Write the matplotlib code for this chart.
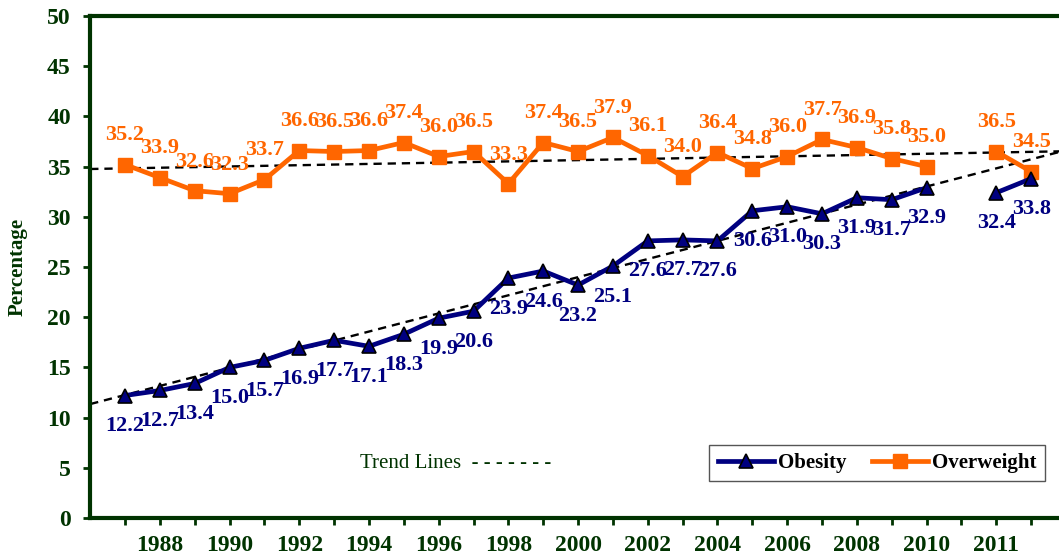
import numpy as np
import matplotlib
matplotlib.use("Agg")
import matplotlib.pyplot as plt
from matplotlib.lines import Line2D

# ---- data ----
categories = [str(y) for y in range(1987, 2011)] + ["", "2011", "2012"]
tick_labels = ["" if (i % 2 == 0) else c for i, c in enumerate(categories[:24])] + ["", "2011", ""]
obesity = [12.2, 12.7, 13.4, 15.0, 15.7, 16.9, 17.7, 17.1, 18.3, 19.9, 20.6, 23.9,
           24.6, 23.2, 25.1, 27.6, 27.7, 27.6, 30.6, 31.0, 30.3, 31.9, 31.7, 32.9,
           np.nan, 32.4, 33.8]
overweight = [35.2, 33.9, 32.6, 32.3, 33.7, 36.6, 36.5, 36.6, 37.4, 36.0, 36.5, 33.3,
              37.4, 36.5, 37.9, 36.1, 34.0, 36.4, 34.8, 36.0, 37.7, 36.9, 35.8, 35.0,
              np.nan, 36.5, 34.5]

GREEN = "#003300"
NAVY = "#000080"
ORANGE = "#FF6600"
SERIF = ["Liberation Serif", "DejaVu Serif"]

plt.rcParams['font.family'] = SERIF

fig = plt.figure(figsize=(10.59, 5.56), dpi=100)
W, H = 1059, 556
x0, x1 = 90.2, 1066.0
ytop, ybot = 16, 518
ax = fig.add_axes([x0 / W, 1 - ybot / H, (x1 - x0) / W, (ybot - ytop) / H])

x = np.arange(len(categories))
ob = np.array(obesity, dtype=float)
ow = np.array(overweight, dtype=float)

# trend lines
xx = np.array([-1, len(categories)])
for vals in (ob, ow):
    m = ~np.isnan(vals)
    k, b = np.polyfit(x[m], vals[m], 1)
    ax.plot(xx, k * xx + b, color="black", ls=(0, (3.5, 2.5)), lw=1.7, zorder=2)

ax.plot(x, ow, color=ORANGE, lw=3.4, marker="s", ms=9.5, mfc=ORANGE, mec=ORANGE, zorder=3)
ax.plot(x, ob, color=NAVY, lw=3.4, marker="^", ms=10, mfc=NAVY, mec="black", mew=1.2, zorder=4)

for xi, v in zip(x, ob):
    if not np.isnan(v):
        ax.annotate(f"{v:.1f}", (xi, v), xytext=(0, -22), textcoords="offset points",
                    ha="center", va="center", color=NAVY, fontsize=16, fontweight="bold", zorder=5)
for xi, v in zip(x, ow):
    if not np.isnan(v):
        ax.annotate(f"{v:.1f}", (xi, v), xytext=(0, 21), textcoords="offset points",
                    ha="center", va="center", color=ORANGE, fontsize=16, fontweight="bold", zorder=5)

ax.set_xlim(-1, len(categories))
ax.set_ylim(0, 50)
ax.set_yticks(np.arange(0, 51, 5))
ax.set_xticks(x)
ax.set_xticklabels(tick_labels)

for s in ["left", "bottom", "top"]:
    ax.spines[s].set_color(GREEN)
    ax.spines[s].set_linewidth(3)
ax.spines["right"].set_visible(False)

ax.tick_params(axis="y", direction="out", length=5, width=2, color=GREEN, pad=9,
               labelsize=17, labelcolor=GREEN)
ax.tick_params(axis="x", direction="out", length=5, width=2, color=GREEN, pad=7,
               labelsize=17, labelcolor=GREEN)
for lab in ax.get_xticklabels() + ax.get_yticklabels():
    lab.set_fontweight("bold")

fig.text(18 / W, 1 - 267 / H, "Percentage", rotation=90, ha="center", va="center",
         color=GREEN, fontsize=15, fontweight="bold")

fig.text(360 / W, 1 - 464 / H, "Trend Lines  - - - - - - -", ha="left", va="center",
         color=GREEN, fontsize=15)

handles = [Line2D([], [], color=NAVY, lw=3.4, marker="^", ms=10, mfc=NAVY, mec="black", mew=1.2),
           Line2D([], [], color=ORANGE, lw=3.4, marker="s", ms=9.5, mfc=ORANGE, mec=ORANGE)]
leg = fig.legend(handles, ["Obesity", "Overweight"], ncol=2, loc="center",
                 bbox_to_anchor=((697 + 1057) / 2 / W, 1 - 463 / H),
                 frameon=True, fancybox=False, edgecolor="#555555", framealpha=1,
                 prop={"family": SERIF, "weight": "bold", "size": 15},
                 handlelength=2.7, handletextpad=0.2, columnspacing=1.2,
                 borderpad=0.4, borderaxespad=0)
leg.get_frame().set_linewidth(1)

fig.savefig("out.png", dpi=100)
